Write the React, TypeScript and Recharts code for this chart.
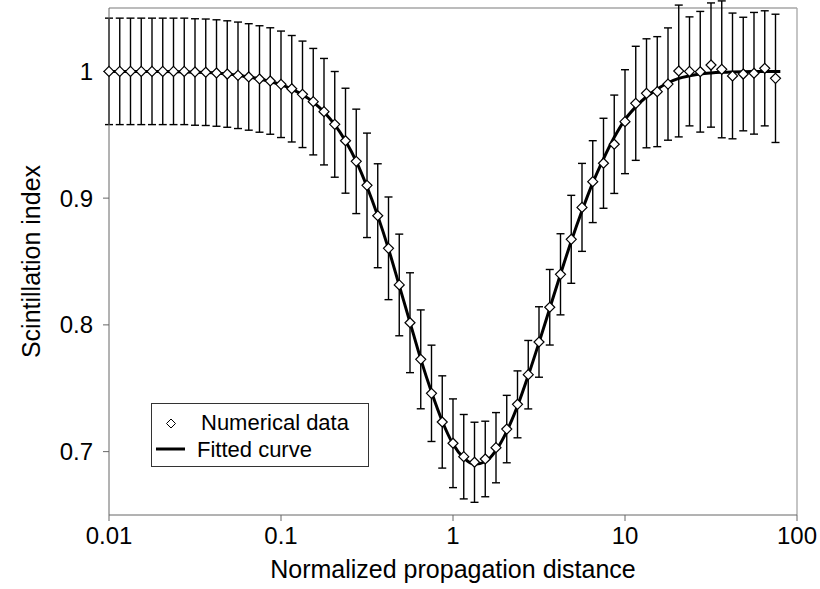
import React from 'react';
import { ComposedChart, Line, Scatter, XAxis, YAxis, ErrorBar, ReferenceLine, Legend, Label } from 'recharts';

const FONT = '"Liberation Sans", Arial, Helvetica, sans-serif';

// Normalized propagation distance of the numerical points
const distances = [
  0.01, 0.011548, 0.013335, 0.015399, 0.017783, 0.020535, 0.023714, 0.027384,
  0.031623, 0.036517, 0.04217, 0.048697, 0.056234, 0.064938, 0.074989, 0.086596,
  0.1, 0.11548, 0.13335, 0.15399, 0.17783, 0.20535, 0.23714, 0.27384,
  0.31623, 0.36517, 0.4217, 0.48697, 0.56234, 0.64938, 0.74989, 0.86596,
  1, 1.1548, 1.3335, 1.5399, 1.7783, 2.0535, 2.3714, 2.7384,
  3.1623, 3.6517, 4.217, 4.8697, 5.6234, 6.4938, 7.4989, 8.6596,
  10, 11.548, 13.335, 15.399, 17.783, 20.535, 23.714, 27.384,
  31.623, 36.517, 42.17, 48.697, 56.234, 64.938, 74.989,
];

// Scintillation index (numerical data)
const scintillation = [
  1.0, 1.0, 1.0, 1.0, 1.0, 1.0, 1.0, 1.0,
  0.9995, 0.9993, 0.9987, 0.9979, 0.9969, 0.9956, 0.994, 0.9924,
  0.9898, 0.9863, 0.9819, 0.9761, 0.9682, 0.9582, 0.9453, 0.929,
  0.9101, 0.8861, 0.8604, 0.8315, 0.8017, 0.7728, 0.746, 0.7234,
  0.7066, 0.696, 0.6916, 0.6942, 0.7031, 0.7178, 0.7373, 0.7607,
  0.7865, 0.8139, 0.8399, 0.8675, 0.8927, 0.913, 0.9275, 0.9425,
  0.9603, 0.9748, 0.9827, 0.984, 0.99, 1.0003, 1.0, 0.9997,
  1.005, 1.0016, 0.9964, 0.9979, 0.9985, 1.0024, 0.9945,
];

// Error bar half-heights
const errors = [
  0.042, 0.042, 0.042, 0.042, 0.042, 0.042, 0.042, 0.042,
  0.042, 0.042, 0.042, 0.042, 0.042, 0.042, 0.042, 0.042,
  0.042, 0.042, 0.042, 0.042, 0.042, 0.0417, 0.0414, 0.0412,
  0.0412, 0.041, 0.0405, 0.0401, 0.0394, 0.039, 0.038, 0.0364,
  0.035, 0.0333, 0.0316, 0.0298, 0.0277, 0.0266, 0.0264, 0.027,
  0.0278, 0.0298, 0.032, 0.0347, 0.0347, 0.0323, 0.0355, 0.0388,
  0.041, 0.045, 0.043, 0.0434, 0.0443, 0.052, 0.043, 0.0476,
  0.049, 0.054, 0.0496, 0.0448, 0.048, 0.0454, 0.0506,
];

// Fitted curve
const fitDistances = [
  0.01, 0.011548, 0.013335, 0.015399, 0.017783, 0.020535, 0.023714, 0.027384,
  0.031623, 0.036517, 0.04217, 0.048697, 0.056234, 0.064938, 0.074989, 0.086596,
  0.1, 0.11548, 0.13335, 0.15399, 0.17783, 0.20535, 0.23714, 0.27384,
  0.31623, 0.36517, 0.4217, 0.48697, 0.56234, 0.64938, 0.74989, 0.86596,
  1, 1.1548, 1.3335, 1.5399, 1.7783, 2.0535, 2.3714, 2.7384,
  3.1623, 3.6517, 4.217, 4.8697, 5.6234, 6.4938, 7.4989, 8.6596,
  10, 11.548, 13.335, 15.399, 17.783, 20.535, 23.714, 27.384,
  31.623, 36.517, 42.17, 48.697, 56.234, 64.938, 74.989, 80,
];
const fitValues = [
  1.0, 1.0, 1.0, 1.0, 1.0, 0.9999, 0.9998, 0.9996,
  0.9994, 0.9991, 0.9987, 0.998, 0.997, 0.9956, 0.994, 0.9919,
  0.9895, 0.986, 0.9815, 0.9758, 0.968, 0.958, 0.945, 0.929,
  0.909, 0.886, 0.86, 0.831, 0.802, 0.773, 0.747, 0.724,
  0.706, 0.695, 0.69, 0.692, 0.701, 0.716, 0.736, 0.76,
  0.786, 0.813, 0.84, 0.866, 0.89, 0.912, 0.931, 0.948,
  0.962, 0.972, 0.98, 0.986, 0.991, 0.9945, 0.9965, 0.998,
  0.9988, 0.9993, 0.9996, 0.9998, 0.9999, 1.0, 1.0, 1.0,
];

const xTicks = [0.01, 0.1, 1, 10, 100];
const yTicks = [0.7, 0.8, 0.9, 1];

const points = distances.map((x, i) => ({ x, y: scintillation[i], err: errors[i] }));
const fitted = fitDistances.map((x, i) => ({ x, y: fitValues[i] }));

const Diamond = (props: any) => {
  const { cx, cy } = props;
  if (cx == null || cy == null) return null;
  const r = 5;
  return (
    <path
      d={`M${cx},${cy - r}L${cx + r},${cy}L${cx},${cy + r}L${cx - r},${cy}Z`}
      fill="#fff"
      stroke="#000"
      strokeWidth={1.2}
    />
  );
};

const LegendBox = () => (
  <div style={{ width: 218, height: 64, border: '1px solid #333', boxSizing: 'border-box', background: '#fff' }}>
    <svg width={216} height={62} style={{ display: 'block' }}>
      <path d="M19,15L23.5,19.5L19,24L14.5,19.5Z" fill="#fff" stroke="#000" strokeWidth={1} />
      <text x={49} y={26} fontSize={22} fontFamily={FONT} fill="#000">Numerical data</text>
      <line x1={4} x2={33} y1={45} y2={45} stroke="#000" strokeWidth={3} />
      <text x={45} y={53} fontSize={22} fontFamily={FONT} fill="#000">Fitted curve</text>
    </svg>
  </div>
);

const fmt = (v: number) => String(v);

export default function App() {
  return (
    <div style={{ position: 'absolute', left: 0, top: 0, background: '#fff' }}>
      <ComposedChart width={820} height={589} margin={{ top: 8, right: 23, left: 0, bottom: 0 }}>
        <XAxis
          dataKey="x"
          type="number"
          scale="log"
          domain={[0.01, 100]}
          ticks={xTicks}
          tickFormatter={fmt}
          height={74}
          stroke="#666"
          tickSize={6}
          tickMargin={6}
          tick={{ fontSize: 24, fill: '#000', fontFamily: FONT }}
          label={
            <Label
              content={(p: any) => {
                const vb = p.viewBox || { x: 109, y: 515, width: 688 };
                return (
                  <text x={vb.x + vb.width / 2} y={vb.y + 63} textAnchor="middle" fontSize={25} fontFamily={FONT} fill="#000">
                    Normalized propagation distance
                  </text>
                );
              }}
            />
          }
        />
        <YAxis
          dataKey="y"
          type="number"
          domain={[0.65, 1.05]}
          allowDataOverflow
          ticks={yTicks}
          tickFormatter={fmt}
          width={109}
          stroke="#666"
          tickSize={6}
          tickMargin={10}
          tick={{ fontSize: 24, fill: '#000', fontFamily: FONT }}
          label={
            <Label
              content={(p: any) => {
                const vb = p.viewBox || { x: 0, y: 8, height: 507 };
                const cx = vb.x + 40;
                const cy = vb.y + vb.height / 2;
                return (
                  <text x={cx} y={cy} transform={`rotate(-90 ${cx} ${cy})`} textAnchor="middle" fontSize={25} fontFamily={FONT} fill="#000">
                    Scintillation index
                  </text>
                );
              }}
            />
          }
        />
        <ReferenceLine y={1.05} stroke="#a6a6a6" strokeWidth={1.3} />
        <ReferenceLine x={100} stroke="#a6a6a6" strokeWidth={1.3} />
        <Line
          data={fitted}
          dataKey="y"
          type="monotone"
          stroke="#000"
          strokeWidth={3}
          dot={false}
          activeDot={false}
          isAnimationActive={false}
        />
        <Scatter data={points} dataKey="y" shape={Diamond} fill="#fff" isAnimationActive={false}>
          <ErrorBar dataKey="err" direction="y" width={4} stroke="#000" strokeWidth={1.4} />
        </Scatter>
        <Legend
          layout="horizontal"
          verticalAlign="middle"
          align="center"
          wrapperStyle={{ left: 151, top: 403, width: 218, height: 64 }}
          content={() => <LegendBox />}
        />
      </ComposedChart>
    </div>
  );
}
